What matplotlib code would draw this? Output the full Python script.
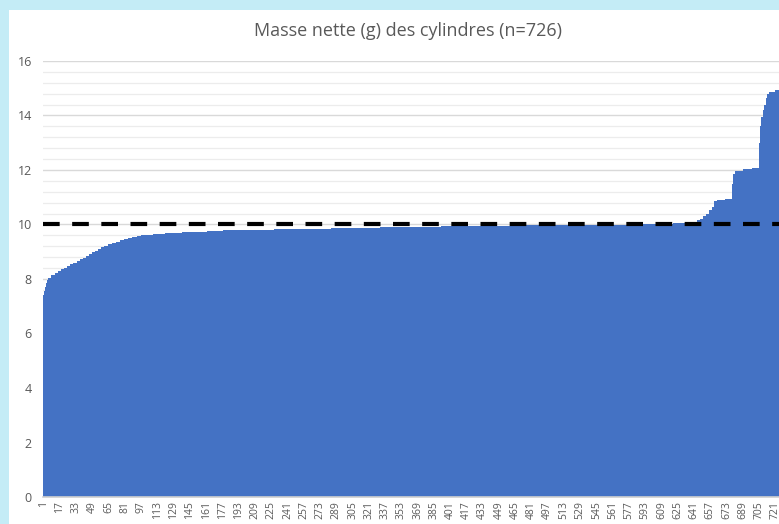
import numpy as np
import matplotlib
matplotlib.use("Agg")
import matplotlib.pyplot as plt
from matplotlib.patches import Rectangle
from matplotlib.ticker import MultipleLocator

# net mass (g) of the 726 cylinders, sorted as (value, count) runs
mass_values = [7.40, 7.55, 7.70, 7.85, 7.95, 8.05, 8.15, 8.22, 8.30,
               8.36, 8.42, 8.48, 8.55, 8.60, 8.66, 8.72, 8.78, 8.85, 8.92, 8.98, 9.04, 9.10, 9.16,
               9.21, 9.27, 9.32, 9.37, 9.42, 9.46, 9.50, 9.54, 9.57,
               9.60, 9.62, 9.64, 9.66, 9.68, 9.70, 9.72, 9.74, 9.76, 9.78,
               9.80, 9.82, 9.84, 9.86, 9.88, 9.90, 9.92, 9.93, 9.95, 9.97, 9.98,
               10.00, 10.03, 10.06, 10.10, 10.15, 10.22, 10.30, 10.40, 10.52, 10.65,
               10.85, 10.90, 10.95, 11.50, 11.85, 11.95, 12.02, 12.08,
               13.00, 13.60, 13.95, 14.20, 14.40, 14.65, 14.78, 14.85, 14.92]
mass_counts = [1, 1, 1, 1, 1, 3, 4, 3, 3,
               3, 3, 3, 3, 3, 3, 3, 3, 3, 3, 3, 3, 3, 3,
               4, 4, 4, 4, 4, 4, 4, 4, 4,
               6, 6, 6, 6, 7, 10, 12, 12, 16, 30,
               20, 36, 20, 29, 20, 20, 40, 31, 50, 50, 57,
               20, 20, 20, 3, 3, 3, 3, 3, 3, 2,
               3, 8, 7, 1, 2, 8, 8, 7,
               1, 1, 2, 1, 2, 1, 2, 6, 6]
threshold = 10
title = "Masse nette (g) des cylindres (n=726)"

masses = np.repeat(mass_values, mass_counts)
idx = np.arange(1, len(masses) + 1)

plt.rcParams['font.family'] = ['Open Sans', 'DejaVu Sans']
grey = '#595959'

fig = plt.figure(figsize=(7.79, 5.24), dpi=100, facecolor='#c4ecf6')
# white chart panel inside the light blue frame
fig.patches.append(Rectangle((9 / 779, 0), 1, 514 / 524, transform=fig.transFigure,
                             facecolor='white', edgecolor='none', zorder=-5))

ax = fig.add_axes([43 / 779, 27 / 524, 738 / 779, 436 / 524])
ax.set_facecolor('none')

ax.bar(idx, masses, width=1.0, color='#4472c4', edgecolor='none', linewidth=0,
       antialiased=False, zorder=2)
ax.axhline(threshold, color='black', linewidth=3, dashes=(4, 3), zorder=3)

ax.set_xlim(0.5, len(masses) + 0.5)
ax.set_ylim(0, 16)
ax.yaxis.set_major_locator(MultipleLocator(2))
ax.yaxis.set_minor_locator(MultipleLocator(0.4))
ax.grid(axis='y', which='major', color='#d9d9d9', linewidth=1.0, zorder=0)
ax.grid(axis='y', which='minor', color='#ececec', linewidth=0.9, zorder=0)
ax.set_axisbelow(True)

ax.set_xticks(idx[::16])
ax.set_xticklabels([str(i) for i in idx[::16]], rotation=90, fontsize=7.5, color=grey)
ax.tick_params(axis='x', length=0, pad=3)
ax.tick_params(axis='y', which='both', length=0, labelsize=9, labelcolor=grey, pad=8)

for s in ['top', 'right', 'left']:
    ax.spines[s].set_visible(False)
ax.spines['bottom'].set_color('#d0d0d0')
ax.spines['bottom'].set_linewidth(1.2)

fig.text(408 / 779, 1 - 31 / 524, title, ha='center', va='center', fontsize=13, color=grey)

fig.savefig('out.png', dpi=100, facecolor=fig.get_facecolor())
